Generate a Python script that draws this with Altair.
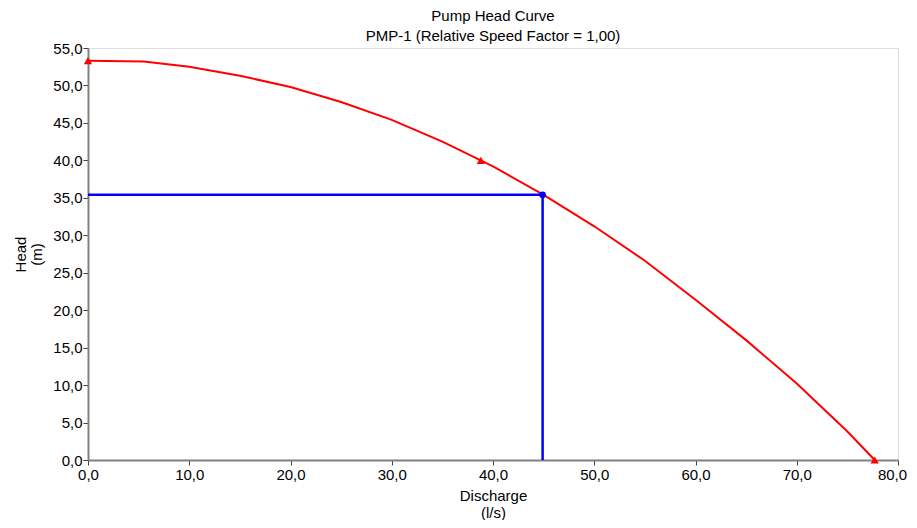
import altair as alt
import pandas as pd

# Pump head curve
curve_q = [0.0, 5.5, 10.0, 15.0, 20.0, 25.0, 30.0, 35.0, 40.0, 45.0, 50.0, 55.0, 60.0, 65.0, 70.0, 75.0, 77.7]
curve_h = [53.3, 53.2, 52.5, 51.3, 49.8, 47.8, 45.4, 42.5, 39.2, 35.4, 31.2, 26.6, 21.4, 16.0, 10.2, 3.8, 0.0]

# Defined pump points (triangles)
pts_q = [0.0, 38.8, 77.7]
pts_h = [53.3, 40.0, 0.0]

# Operating point
op_q = [44.9]
op_h = [35.4]

# Axis tick values
x_ticks = [0, 10, 20, 30, 40, 50, 60, 70, 80]
y_ticks = [0, 5, 10, 15, 20, 25, 30, 35, 40, 45, 50, 55]

curve_df = pd.DataFrame({"q": curve_q, "h": curve_h})
pts_df = pd.DataFrame({"q": pts_q, "h": pts_h})
op_df = pd.DataFrame({"q": op_q, "h": op_h})
hline_df = pd.DataFrame({"q": [0.0, op_q[0]], "h": [op_h[0], op_h[0]]})
vline_df = pd.DataFrame({"q": [op_q[0], op_q[0]], "h": [op_h[0], 0.0]})

FONT = "Liberation Sans"
lbl = "replace(format(datum.value, '.1f'), '.', ',')"

xscale = alt.Scale(domain=[0, 80], nice=False, zero=False)
yscale = alt.Scale(domain=[0, 55], nice=False, zero=False)

xaxis = alt.Axis(values=x_ticks, labelExpr=lbl,
                 title=["Discharge", "(l/s)"], grid=False,
                 domainColor="#808080", domainWidth=2, tickColor="#404040",
                 tickSize=5, labelFont=FONT, labelFontSize=15, labelColor="#000000",
                 labelOffset={"condition": {"test": "datum.value == 80", "value": -6}, "value": 0},
                 titleFont=FONT, titleFontSize=15, titleFontWeight="normal",
                 titleColor="#000000", titlePadding=6, labelPadding=2,
                 labelOverlap=False, labelFlush=False, titleLineHeight=17)
yaxis = alt.Axis(values=y_ticks, labelExpr=lbl,
                 title=["Head", "(m)"], grid=False,
                 domainColor="#808080", domainWidth=2, tickColor="#404040",
                 tickSize=5, labelFont=FONT, labelFontSize=15, labelColor="#000000",
                 titleFont=FONT, titleFontSize=15, titleFontWeight="normal",
                 titleColor="#000000", titlePadding=8, labelPadding=1,
                 labelOverlap=False, labelFlush=False, titleLineHeight=16)


def enc(ch):
    return ch.encode(x=alt.X("q:Q", scale=xscale, axis=xaxis),
                     y=alt.Y("h:Q", scale=yscale, axis=yaxis))


curve = enc(alt.Chart(curve_df).mark_line(color="#FF0000", strokeWidth=2))
hline = enc(alt.Chart(hline_df).mark_line(color="#0000FF", strokeWidth=2.5))
vline = enc(alt.Chart(vline_df).mark_line(color="#0000FF", strokeWidth=2.5))
tris = enc(alt.Chart(pts_df).mark_point(shape="triangle-up", filled=True, color="#FF0000",
                                        size=70, opacity=1))
op = enc(alt.Chart(op_df).mark_point(shape="circle", filled=True, color="#0000FF",
                                     size=45, opacity=1))

chart = alt.layer(curve, hline, vline, tris, op).properties(
    width=810, height=412,
    title=alt.TitleParams(text=["Pump Head Curve", "PMP-1 (Relative Speed Factor = 1,00)"],
                          font=FONT, fontSize=15, fontWeight="normal", color="#000000",
                          anchor="middle", offset=-3, lineHeight=20),
    autosize=alt.AutoSizeParams(type="none"),
    padding={"left": 80, "top": 40, "right": 11, "bottom": 60},
).configure_view(stroke=None).configure(background="#FFFFFF")

chart.save("out.html", embed_options={"renderer": "svg", "actions": False})
